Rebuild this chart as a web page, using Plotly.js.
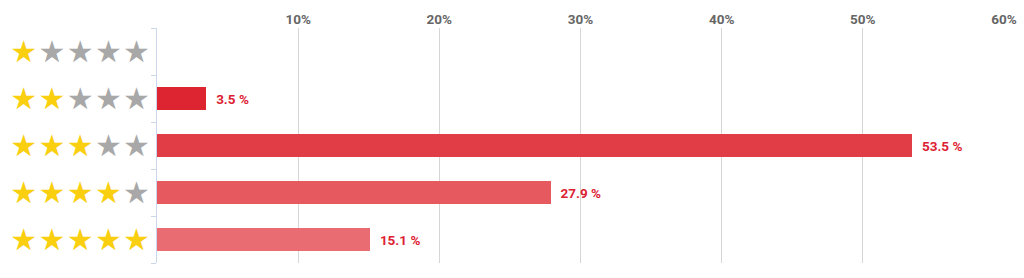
<!DOCTYPE html>
<html><head><meta charset="utf-8">
<script src="https://cdn.plot.ly/plotly-3.0.1.min.js"></script>
<style>html,body{margin:0;padding:0;background:#fff}#chart{width:1024px;height:278px}</style>
</head><body><div id="chart"></div>
<script>
// Data
const ratings = [1, 2, 3, 4, 5];
const categories = ['1 star', '2 stars', '3 stars', '4 stars', '5 stars'];
const shares = [null, 3.5, 53.5, 27.9, 15.1];
const barColors = ['#DD2532', '#DD2532', '#E03D47', '#E5595F', '#EA6C73'];
const xTicks = [10, 20, 30, 40, 50, 60];
const xTickLabels = ['10%', '20%', '30%', '40%', '50%', '60%'];

const GOLD = '#F9CF10', GREY = '#A8A8A8';
function starLabel(n) {
  const parts = [];
  for (let i = 0; i < 5; i++) {
    parts.push('<span style="fill:' + (i < n ? GOLD : GREY) + '">★</span>');
  }
  return parts.join('<span style="font-size:4px">\u00a0</span>');
}
const starText = ratings.map(starLabel);

const trace = {
  type: 'bar',
  orientation: 'h',
  y: categories,
  x: shares,
  width: 0.47,
  marker: { color: barColors },
  text: shares.map(v => v == null ? '' : '\u00a0\u00a0' + v.toFixed(1) + ' %'),
  textposition: 'outside',
  textfont: { family: 'Roboto, Arial, sans-serif', size: 13.5, color: '#DD2233', weight: 'bold' },
  cliponaxis: false,
  hoverinfo: 'none'
};

const layout = {
  width: 1024, height: 278,
  margin: { l: 157, r: 20, t: 28, b: 15 },
  paper_bgcolor: '#fff', plot_bgcolor: '#fff',
  showlegend: false,
  bargap: 0,
  xaxis: {
    side: 'top', range: [0, 60], tickmode: 'array', tickvals: xTicks, ticktext: xTickLabels,
    showgrid: true, gridcolor: '#D6D6D6', gridwidth: 1,
    zeroline: false, showline: false, ticks: '',
    tickfont: { family: 'Roboto, Arial, sans-serif', size: 13.5, color: '#666666', weight: 'bold' }
  },
  yaxis: {
    type: 'category', categoryorder: 'array', categoryarray: categories,
    autorange: 'reversed',
    tickmode: 'array', tickvals: categories, ticktext: starText,
    showline: true, linecolor: '#CCD6EB', linewidth: 1,
    ticks: 'outside', tickson: 'boundaries', ticklen: 5, tickcolor: '#CCD6EB',
    showgrid: false, zeroline: false,
    tickfont: { family: 'DejaVu Sans', size: 30, color: GREY }
  }
};

Plotly.newPlot('chart', [trace], layout, { displayModeBar: false, staticPlot: true });
</script>
</body></html>
